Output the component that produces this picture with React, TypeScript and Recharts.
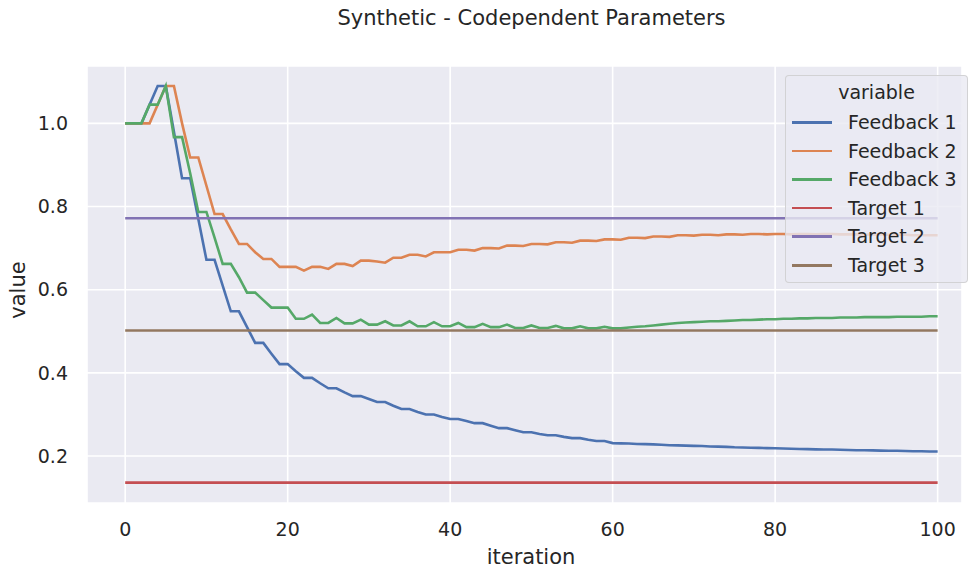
import { LineChart, Line, XAxis, YAxis, CartesianGrid } from 'recharts';

const ITERATIONS = Array.from({ length: 101 }, (_, i) => i);

const FEEDBACK_1 = [
  1.0, 1.0, 1.0, 1.045, 1.09, 1.09, 0.98, 0.868, 0.868, 0.77,
  0.672, 0.672, 0.61, 0.548, 0.548, 0.51, 0.472, 0.472, 0.446, 0.421,
  0.421, 0.404, 0.388, 0.388, 0.375, 0.363, 0.363, 0.353, 0.344, 0.344,
  0.337, 0.33, 0.33, 0.321, 0.313, 0.313, 0.306, 0.3, 0.3, 0.294,
  0.289, 0.289, 0.284, 0.279, 0.279, 0.273, 0.267, 0.267, 0.262, 0.257,
  0.257, 0.253, 0.25, 0.25, 0.246, 0.243, 0.243, 0.239, 0.236, 0.236,
  0.231, 0.2305, 0.23, 0.229, 0.2285, 0.228, 0.227, 0.226, 0.2255, 0.225,
  0.2245, 0.224, 0.223, 0.2225, 0.222, 0.221, 0.2205, 0.22, 0.2195, 0.219,
  0.2185, 0.218, 0.2175, 0.217, 0.2165, 0.216, 0.2155, 0.2155, 0.215, 0.2145,
  0.214, 0.214, 0.2135, 0.213, 0.2125, 0.2125, 0.212, 0.2115, 0.2115, 0.211,
  0.211,
];

const FEEDBACK_2 = [
  1.0, 1.0, 1.0, 1.0, 1.045, 1.09, 1.09, 1.0, 0.918, 0.918,
  0.85, 0.782, 0.782, 0.745, 0.71, 0.71, 0.69, 0.674, 0.674, 0.655,
  0.655, 0.655, 0.646, 0.655, 0.655, 0.65, 0.662, 0.662, 0.657, 0.67,
  0.67, 0.668, 0.665, 0.677, 0.677, 0.684, 0.684, 0.68, 0.69, 0.69,
  0.69, 0.696, 0.696, 0.694, 0.7, 0.7, 0.699, 0.706, 0.706, 0.705,
  0.71, 0.71, 0.709, 0.714, 0.714, 0.713, 0.718, 0.718, 0.717, 0.721,
  0.721, 0.72, 0.725, 0.725, 0.724, 0.728, 0.728, 0.727, 0.731, 0.731,
  0.73, 0.732, 0.732, 0.731, 0.733, 0.733, 0.732, 0.734, 0.734, 0.733,
  0.734, 0.734, 0.733, 0.734, 0.734, 0.733, 0.734, 0.734, 0.733, 0.733,
  0.733, 0.732, 0.733, 0.733, 0.732, 0.732, 0.732, 0.731, 0.731, 0.731,
  0.731,
];

const FEEDBACK_3 = [
  1.0, 1.0, 1.0, 1.045, 1.045, 1.09, 0.967, 0.967, 0.88, 0.787,
  0.787, 0.725, 0.662, 0.662, 0.63, 0.593, 0.593, 0.575, 0.557, 0.557,
  0.557, 0.53, 0.53, 0.54, 0.52, 0.52, 0.532, 0.519, 0.519, 0.528,
  0.516, 0.516, 0.524, 0.514, 0.514, 0.524, 0.512, 0.512, 0.522, 0.512,
  0.512, 0.52, 0.51, 0.51, 0.518, 0.51, 0.51, 0.516, 0.508, 0.508,
  0.514, 0.508, 0.508, 0.513, 0.507, 0.507, 0.512, 0.507, 0.507, 0.511,
  0.507, 0.507, 0.509, 0.511, 0.512, 0.514, 0.516, 0.518, 0.52, 0.521,
  0.522, 0.523, 0.524, 0.524, 0.525, 0.526, 0.527, 0.527, 0.528, 0.529,
  0.529, 0.53, 0.53, 0.531, 0.531, 0.532, 0.532, 0.532, 0.533, 0.533,
  0.533, 0.534, 0.534, 0.534, 0.534, 0.535, 0.535, 0.535, 0.535, 0.536,
  0.536,
];

const TARGET_1 = 0.136;
const TARGET_2 = 0.772;
const TARGET_3 = 0.502;

const X_TICKS = [0, 20, 40, 60, 80, 100];
const Y_TICKS = [0.2, 0.4, 0.6, 0.8, 1.0];

const SERIES = [
  { key: 'Feedback 1', color: '#4c72b0' },
  { key: 'Feedback 2', color: '#dd8452' },
  { key: 'Feedback 3', color: '#55a868' },
  { key: 'Target 1', color: '#c44e52' },
  { key: 'Target 2', color: '#8172b3' },
  { key: 'Target 3', color: '#937860' },
];

const data = ITERATIONS.map((it, i) => ({
  iteration: it,
  'Feedback 1': FEEDBACK_1[i],
  'Feedback 2': FEEDBACK_2[i],
  'Feedback 3': FEEDBACK_3[i],
  'Target 1': TARGET_1,
  'Target 2': TARGET_2,
  'Target 3': TARGET_3,
}));

const FONT = '"DejaVu Sans", sans-serif';
const TEXT = '#262626';

function LegendBox() {
  return (
    <div style={{
      position: 'absolute', left: 785, top: 75, width: 181, height: 206,
      background: 'rgba(234,234,242,0.8)', border: '1px solid rgba(204,204,204,0.8)',
      borderRadius: 4, fontFamily: FONT, fontSize: 19, color: TEXT,
    }}>
      <div style={{ position: 'absolute', left: 0, right: 0, top: 4, textAlign: 'center', lineHeight: '24px' }}>variable</div>
      {SERIES.map((s, i) => (
        <div key={s.key} style={{ position: 'absolute', left: 0, top: 34 + i * 28.6, height: 24, width: 181 }}>
          <div style={{ position: 'absolute', left: 6, top: 11, width: 40, height: 2.5, background: s.color }} />
          <div style={{ position: 'absolute', left: 62, top: 0, lineHeight: '24px', whiteSpace: 'nowrap' }}>{s.key}</div>
        </div>
      ))}
    </div>
  );
}

export default function App() {
  return (
    <div style={{ position: 'fixed', left: 0, top: 0, width: 969, height: 571, background: '#fff', overflow: 'hidden' }}>
      <div style={{
        position: 'absolute', left: 0, width: 1063, top: 5, textAlign: 'center',
        fontFamily: FONT, fontSize: 21, color: TEXT, lineHeight: '26px',
      }}>
        Synthetic - Codependent Parameters
      </div>
      <div style={{
        position: 'absolute', left: 18, top: 290, transform: 'translate(-50%, -50%) rotate(-90deg)',
        fontFamily: FONT, fontSize: 21, color: TEXT, whiteSpace: 'nowrap',
      }}>
        value
      </div>
      <div style={{
        position: 'absolute', left: 531, top: 557, transform: 'translate(-50%, -50%)',
        fontFamily: FONT, fontSize: 21, color: TEXT, whiteSpace: 'nowrap',
      }}>
        iteration
      </div>
      <LineChart width={969} height={571} data={data} margin={{ top: 66, right: 7, left: 47, bottom: 38 }}>
        <CartesianGrid fill="#eaeaf2" stroke="#ffffff" strokeWidth={1.6} />
        <XAxis
          type="number"
          dataKey="iteration"
          domain={[-4.7, 103]}
          ticks={X_TICKS}
          allowDataOverflow
          axisLine={false}
          tickLine={false}
          tickSize={0}
          tickMargin={20}
          height={30}
          tick={{ fontSize: 19, fill: TEXT, fontFamily: FONT }}
        />
        <YAxis
          type="number"
          domain={[0.087, 1.138]}
          ticks={Y_TICKS}
          allowDataOverflow
          axisLine={false}
          tickLine={false}
          tickSize={0}
          tickMargin={19}
          width={40}
          tickFormatter={(v: number) => v.toFixed(1)}
          tick={{ fontSize: 19, fill: TEXT, fontFamily: FONT }}
        />
        {SERIES.map(s => (
          <Line
            key={s.key}
            dataKey={s.key}
            stroke={s.color}
            strokeWidth={2.6}
            dot={false}
            type="linear"
            isAnimationActive={false}
          />
        ))}
      </LineChart>
      <LegendBox />
    </div>
  );
}
